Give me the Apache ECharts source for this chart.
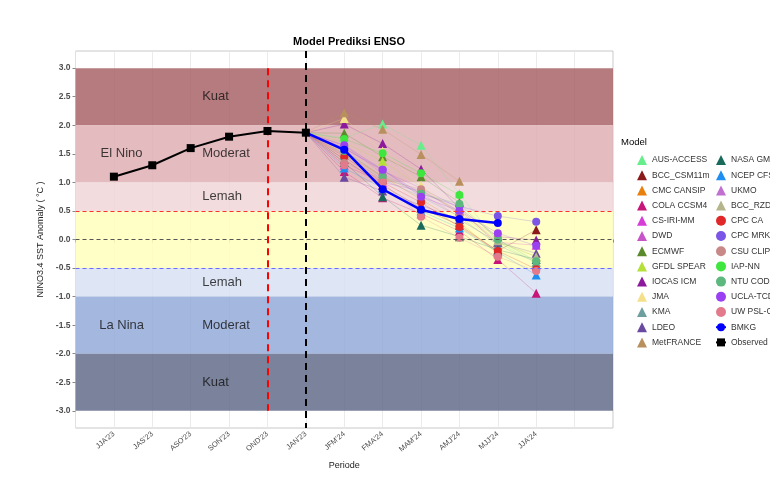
<!DOCTYPE html>
<html>
<head>
<meta charset="utf-8">
<script src="https://cdn.jsdelivr.net/npm/echarts@6/dist/echarts.min.js"></script>
<style>
  html, body { margin: 0; padding: 0; background: #fff; }
  #chart { width: 770px; height: 486px; }
</style>
</head>
<body>
<div id="chart"></div>
<script>
// periode (posisi 1..12 di sumbu x)
const periods = ["JJA'23", "JAS'23", "ASO'23", "SON'23", "OND'23", "JAN'23",
  "JFM'24", "FMA'24", "MAM'24", "AMJ'24", "MJJ'24", "JJA'24"]

// observasi JJA'23 .. JAN'23
const observed = [1.1, 1.3, 1.6, 1.8, 1.9, 1.87]

// BMKG JAN'23 .. MJJ'24
const bmkg = [1.87, 1.57, 0.88, 0.52, 0.36, 0.29]

// prediksi model JFM'24 .. JJA'24
const models = ['AUS-ACCESS', 'BCC_CSM11m', 'CMC CANSIP', 'COLA CCSM4', 'CS-IRI-MM', 'DWD',
  'ECMWF', 'GFDL SPEAR', 'IOCAS ICM', 'JMA', 'KMA', 'LDEO', 'MetFRANCE',
  'NASA GMAO', 'NCEP CFSv2', 'UKMO', 'BCC_RZDM', 'CPC CA', 'CPC MRKOV', 'CSU CLIPR',
  'IAP-NN', 'NTU CODA', 'UCLA-TCD', 'UW PSL-CSI']
const forecasts = [
  [1.78, 2.02, 1.65, 0.80, -0.05, -0.40],
  [1.40, 0.95, 0.55, 0.25, -0.20, 0.17],
  [1.50, 1.10, 0.70, 0.30, -0.25, null],
  [1.19, 0.73, 0.45, 0.15, -0.35, -0.94],
  [1.30, 1.00, 0.85, 0.50, -0.05, -0.10],
  [1.60, 1.20, 0.90, 0.55, -0.10, null],
  [1.86, 1.45, 1.10, 0.65, null, null],
  [1.70, 1.37, 0.92, 0.45, -0.05, -0.30],
  [2.02, 1.68, 1.23, 0.55, 0.05, -0.01],
  [2.12, 1.55, 0.95, 0.45, null, null],
  [1.48, 1.05, 0.75, 0.40, -0.10, -0.40],
  [1.09, 0.85, 0.60, 0.35, -0.05, -0.24],
  [2.22, 1.93, 1.49, 1.02, null, null],
  [1.35, 0.75, 0.25, 0.05, -0.18, -0.35],
  [1.25, 0.90, 0.50, 0.20, -0.22, -0.62],
  [1.65, 1.15, 0.80, 0.40, null, null],
  [1.55, 1.10, 0.85, 0.50, -0.02, -0.30],
  [1.45, 1.00, 0.65, 0.22, -0.20, -0.52],
  [1.60, 1.22, 0.80, 0.58, 0.41, 0.31],
  [1.34, 1.05, 0.88, 0.45, 0.05, null],
  [1.76, 1.51, 1.16, 0.78, null, null],
  [1.55, 1.10, 0.80, 0.62, 0.00, -0.38],
  [1.65, 1.22, 0.75, 0.50, 0.11, -0.11],
  [1.30, 1.00, 0.40, 0.03, -0.30, -0.55]
]

// kategori ENSO (batas atas, batas bawah)
const bands = [[3, 2], [2, 1], [1, 0.5], [0.5, -0.5], [-0.5, -1], [-1, -2], [-2, -3]]

// warna / bentuk
const bandColors = ['rgba(168,100,103,0.85)', 'rgba(223,175,179,0.85)', 'rgba(240,214,216,0.85)',
  'rgba(255,255,188,0.85)', 'rgba(216,224,243,0.85)', 'rgba(148,170,216,0.85)', 'rgba(99,109,138,0.85)']
const modelColors = ['#66ee8c', '#8b1a1a', '#e8800e', '#c8157a', '#d63cd6', '#c855c8',
  '#5b8a2c', '#b4e03a', '#8c1a9c', '#f5e08a', '#6e9e9e', '#6a4aa0', '#b8905e',
  '#1a6a5c', '#1e8ef0', '#c070d0', '#b5b58c', '#e02828', '#7a55e6', '#c88888',
  '#3ee63e', '#5cb87c', '#9a40f2', '#e27a8c']
const modelShapes = models.map((m, i) => i < 17 ? 'triangle' : 'circle')

const font = 'Liberation Sans'

let chart = echarts.init(document.getElementById('chart'))

let series = []

// pita kategori
series.push({
  type: 'line', data: [], z: 2, silent: true,
  markArea: {
    silent: true,
    data: bands.map((b, i) => [
      {xAxis: 0, yAxis: b[0], itemStyle: {color: bandColors[i]}},
      {xAxis: 14, yAxis: b[1]}
    ])
  }
})

// garis batas putus-putus
series.push({
  type: 'line', data: [], z: 3, silent: true,
  markLine: {
    symbol: 'none', silent: true, label: {show: false},
    data: [
      [{coord: [0, 0.5], lineStyle: {color: '#ff3030', width: 1, type: [4, 3]}}, {coord: [14, 0.5]}],
      [{coord: [0, 0], lineStyle: {color: '#555', width: 1.2, type: [4, 3]}}, {coord: [14, 0]}],
      [{coord: [0, -0.5], lineStyle: {color: '#6a6aff', width: 1.2, type: [4, 3]}}, {coord: [14, -0.5]}],
      [{coord: [5, 3], lineStyle: {color: '#ff0000', width: 2, type: [7, 5]}}, {coord: [5, -3]}],
      [{coord: [6, 3.3], lineStyle: {color: '#000', width: 2, type: [7, 5]}}, {coord: [6, -3.3]}]
    ]
  }
})

// teks kategori
series.push({
  type: 'scatter', z: 3, silent: true, symbolSize: 0,
  label: {
    show: true, position: 'inside', align: 'left',
    fontFamily: font, fontSize: 13, color: '#111',
    formatter: p => p.value[2]
  },
  data: [
    [3.3, 2.5, 'Kuat'], [3.3, 1.5, 'Moderat'], [3.3, 0.75, 'Lemah'],
    [3.3, -0.75, 'Lemah'], [3.3, -1.5, 'Moderat'], [3.3, -2.5, 'Kuat'],
    {value: [1.2, 1.5, 'El Nino'], label: {align: 'center'}},
    {value: [1.2, -1.5, 'La Nina'], label: {align: 'center'}}
  ]
})

// model
models.forEach((name, i) => {
  let data = [{value: [6, observed[5]], symbol: 'none'}]
  forecasts[i].forEach((v, j) => {
    if (v !== null) data.push([7 + j, v])
  })
  series.push({
    name: name, type: 'line', z: 4,
    data: data,
    symbol: modelShapes[i],
    symbolSize: modelShapes[i] === 'triangle' ? 9 : 8,
    itemStyle: {color: modelColors[i]},
    lineStyle: {color: modelColors[i], width: 0.7, opacity: 0.35}
  })
})

// BMKG
series.push({
  name: 'BMKG', type: 'line', z: 5,
  data: bmkg.map((v, i) => i === 0 ? {value: [6, v], symbol: 'none'} : [6 + i, v]),
  symbol: 'circle', symbolSize: 8,
  itemStyle: {color: '#0000ff'},
  lineStyle: {color: '#0000ff', width: 2.5}
})

// Observed
series.push({
  name: 'Observed', type: 'line', z: 6,
  data: observed.map((v, i) => [1 + i, v]),
  symbol: 'rect', symbolSize: 8,
  itemStyle: {color: '#000'},
  lineStyle: {color: '#000', width: 2}
})

const legendNames = models.concat(['BMKG', 'Observed'])
const legendItems = legendNames.map((n, i) => i < models.length ? {name: n, icon: modelShapes[i]} : {name: n})

let legendCommon = {
  orient: 'vertical', top: 150, itemWidth: 10, itemHeight: 10, itemGap: 5.2,
  selectedMode: false,
  textStyle: {fontFamily: font, fontSize: 8.5, color: '#333', lineHeight: 10}
}

let yTicks = []
for (let v = -3; v <= 3; v += 0.5) yTicks.push(v)

let option = {
  animation: false,
  backgroundColor: '#fff',
  title: [
    {text: 'Model Prediksi ENSO', left: 344, top: 31, textAlign: 'center',
      textStyle: {fontFamily: font, fontSize: 11, fontWeight: 'bold', color: '#000'}},
    {text: 'Model', left: 616, top: 132,
      textStyle: {fontFamily: font, fontSize: 9.5, fontWeight: 'normal', color: '#000'}}
  ],
  legend: [
    Object.assign({left: 632, data: legendItems.slice(0, 13)}, legendCommon),
    Object.assign({left: 710, data: legendItems.slice(13)}, legendCommon)
  ],
  grid: {left: 75.5, right: 157, top: 51, bottom: 58, show: true, borderColor: '#c8c8c8', borderWidth: 1},
  xAxis: {
    type: 'value', min: 0, max: 14, interval: 1,
    name: 'Periode', nameLocation: 'middle', nameGap: 33,
    nameTextStyle: {fontFamily: font, fontSize: 9, color: '#222'},
    axisLine: {show: false},
    axisTick: {show: true, length: 3, lineStyle: {color: '#888'}},
    splitLine: {show: true, lineStyle: {color: '#e6e6e6', width: 0.8}},
    axisLabel: {
      rotate: 40, fontFamily: font, fontSize: 7.5, color: '#4d4d4d', margin: 5,
      formatter: v => periods[v - 1] || ''
    }
  },
  yAxis: {
    type: 'value', min: -3.3, max: 3.3,
    name: 'NINO3.4 SST Anomaly ( °C )', nameLocation: 'middle', nameGap: 27,
    nameTextStyle: {fontFamily: font, fontSize: 9, color: '#222'},
    axisLine: {show: false},
    axisTick: {show: true, length: 3, lineStyle: {color: '#888'}, customValues: yTicks},
    splitLine: {show: false},
    axisLabel: {
      fontFamily: font, fontSize: 8.5, fontWeight: 'bold', color: '#4d4d4d', margin: 5,
      customValues: yTicks,
      formatter: v => v.toFixed(1)
    }
  },
  series: series
}

chart.setOption(option)
</script>
</body>
</html>
